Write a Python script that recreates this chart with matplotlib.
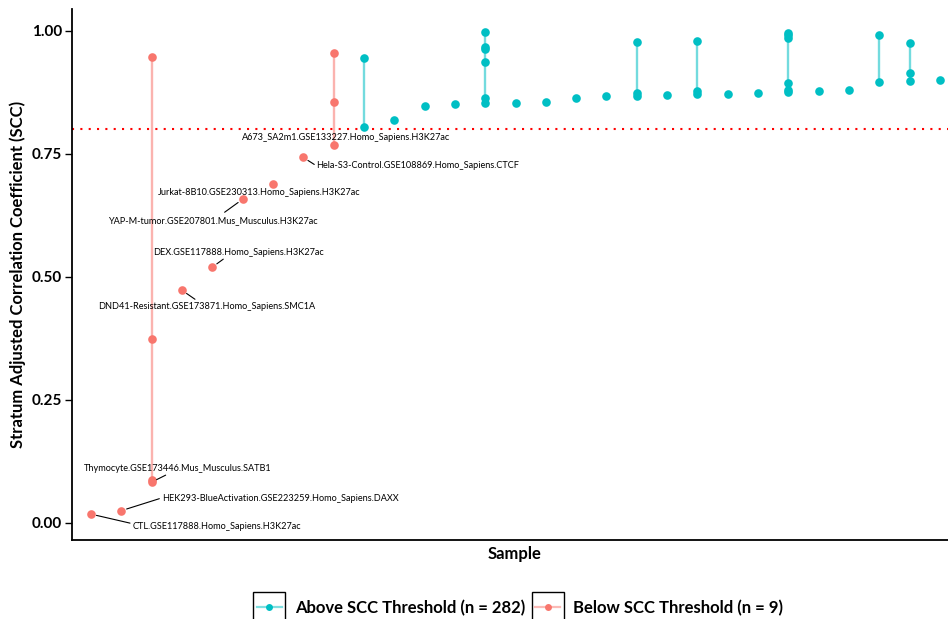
import numpy as np
import matplotlib
matplotlib.use("Agg")
import matplotlib.pyplot as plt
from matplotlib.lines import Line2D
from matplotlib.patches import Rectangle
from matplotlib.legend_handler import HandlerLine2D

plt.rcParams['font.family'] = ['Lato', 'DejaVu Sans']

# sample index on x, SCC on y
above_x = [9, 9, 10, 11, 12, 13, 13, 13, 13, 13, 13, 14, 15, 16, 17, 18, 18, 18, 19,
           20, 20, 20, 21, 22, 23, 23, 23, 23, 23, 23, 24, 25, 26, 26, 27, 27, 27, 28]
above_y = [0.945, 0.805, 0.819, 0.848, 0.851, 0.997, 0.967, 0.964, 0.936, 0.863, 0.853,
           0.854, 0.856, 0.864, 0.868, 0.978, 0.873, 0.868, 0.870,
           0.980, 0.878, 0.871, 0.871, 0.873, 0.995, 0.991, 0.985, 0.895, 0.881, 0.877,
           0.879, 0.881, 0.991, 0.896, 0.975, 0.914, 0.898, 0.901]

below_x = [0, 1, 2, 2, 2, 2, 3, 4, 5, 6, 7, 8, 8, 8]
below_y = [0.018, 0.025, 0.947, 0.374, 0.088, 0.083, 0.473, 0.520, 0.658, 0.690, 0.743,
           0.956, 0.855, 0.768]
below_labels = ["CTL.GSE117888.Homo_Sapiens.H3K27ac",
                "HEK293-BlueActivation.GSE223259.Homo_Sapiens.DAXX",
                None, None, None,
                "Thymocyte.GSE173446.Mus_Musculus.SATB1",
                "DND41-Resistant.GSE173871.Homo_Sapiens.SMC1A",
                "DEX.GSE117888.Homo_Sapiens.H3K27ac",
                "YAP-M-tumor.GSE207801.Mus_Musculus.H3K27ac",
                "Jurkat-8B10.GSE230313.Homo_Sapiens.H3K27ac",
                "Hela-S3-Control.GSE108869.Homo_Sapiens.CTCF",
                None, None,
                "A673_SA2m1.GSE133227.Homo_Sapiens.H3K27ac"]
# label centre offsets and leader-segment ends (pixels) from the repel layout
label_dx = [126, 159, 0, 0, 0, 26, 25, 26, -30, -14, 114, 0, 0, 13]
label_dy = [-12, 12, 0, 0, 0, 14, -16, 15, -21, -9, -8, 0, 0, 8]
seg_dx = [39, 38, 0, 0, 0, 14, 13, 11, -18, 0, 11, 0, 0, 0]
seg_dy = [-9, 12, 0, 0, 0, 7, -9, 8, -13, 0, -7, 0, 0, 0]

threshold = 0.8
n_above, n_below = 282, 9

CYAN = "#00BFC4"
RED = "#F8766D"

fig = plt.figure(figsize=(9.48, 6.19), dpi=100)
W, H = 948, 619
ax = fig.add_axes([72 / W, 1 - 540 / H, (W - 72) / W, 531 / H])


def draw_group(xs, ys, color):
    xs = np.array(xs)
    ys = np.array(ys)
    for x in np.unique(xs):
        yy = ys[xs == x]
        if len(yy) > 1:
            ax.plot([x, x], [yy.min(), yy.max()], color=color, alpha=0.55, lw=1.7,
                    solid_capstyle='butt', zorder=2)
    ax.plot(xs, ys, 'o', color=color, ms=6.2, mec='none', zorder=3)


draw_group(below_x, below_y, RED)
draw_group(above_x, above_y, CYAN)

ax.axhline(threshold, color='red', lw=1.5, ls=(0, (1, 3)), zorder=1)

for x, y, lab, dx, dy, sx, sy in zip(below_x, below_y, below_labels, label_dx, label_dy,
                                     seg_dx, seg_dy):
    if lab is None:
        continue
    ax.annotate(lab, xy=(x, y), xytext=(dx, dy), textcoords='offset pixels',
                ha='center', va='center', fontsize=6.6, color='black', zorder=4)
    if sx or sy:
        ax.annotate("", xy=(x, y), xytext=(sx, sy), textcoords='offset pixels',
                    arrowprops=dict(arrowstyle='-', color='black', lw=0.8,
                                    shrinkA=0, shrinkB=4))

ax.set_xlim(-0.627, 28.264)
ax.set_ylim(-0.0346, 1.0447)
ax.set_xticks([])
ax.set_yticks([0, 0.25, 0.5, 0.75, 1.0])
ax.set_yticklabels(["0.00", "0.25", "0.50", "0.75", "1.00"])
for t in ax.get_yticklabels():
    t.set_fontweight('bold')
    t.set_fontsize(11)
ax.tick_params(axis='y', length=5, width=1, pad=2)
for s in ['top', 'right']:
    ax.spines[s].set_visible(False)
for s in ['left', 'bottom']:
    ax.spines[s].set_linewidth(1.3)

ax.set_ylabel("Stratum Adjusted Correlation Coefficient (SCC)", fontsize=12,
              fontweight='bold', labelpad=4.5)
ax.set_xlabel("Sample", fontsize=12, fontweight='bold', labelpad=4)
ax.xaxis.label.set_x((515 - 72) / (W - 72))


class BoxedKey(HandlerLine2D):
    # legend key with a black square around it, ggplot style
    def create_artists(self, legend, orig_handle, xdescent, ydescent, width, height,
                       fontsize, trans):
        arts = super().create_artists(legend, orig_handle, xdescent, ydescent, width,
                                      height, fontsize, trans)
        pad = 2.5
        box = Rectangle((-xdescent - pad, -ydescent - (22 - height) / 2), width + 2 * pad, 22,
                        fill=False, ec='black', lw=1.0, transform=trans)
        return [box] + arts


handles = [Line2D([], [], color="#7FDFE1", marker='o', ms=5, mec='none', lw=1.6,
                  markerfacecolor=CYAN),
           Line2D([], [], color="#FBBAB6", marker='o', ms=5, mec='none', lw=1.6,
                  markerfacecolor=RED)]
labels = [f"Above SCC Threshold (n = {n_above})", f"Below SCC Threshold (n = {n_below})"]
leg = fig.legend(handles, labels, loc='center', bbox_to_anchor=(520 / W, 1 - 608 / H),
                 ncol=2, frameon=False, handlelength=1.5, handleheight=1.0,
                 handletextpad=0.8, columnspacing=0.6, borderpad=0,
                 prop=dict(size=12, weight='bold'),
                 handler_map={Line2D: BoxedKey(numpoints=1)})

fig.savefig("out.png", dpi=100)
